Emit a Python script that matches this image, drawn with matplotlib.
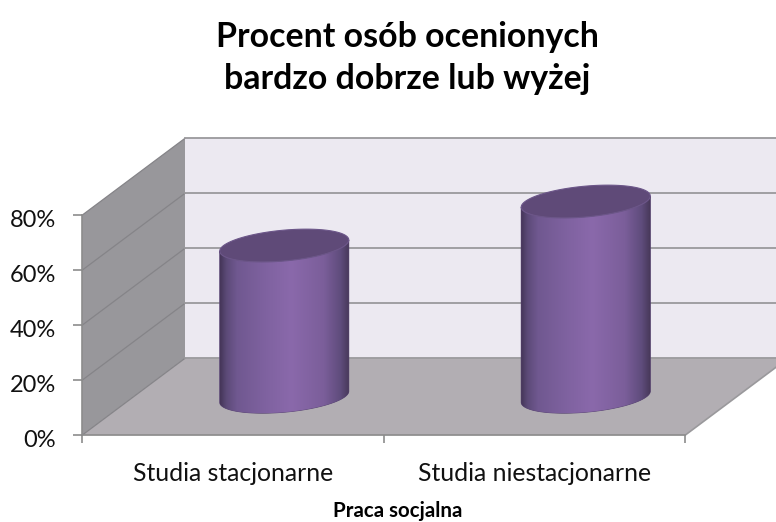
import numpy as np
import matplotlib
matplotlib.use("Agg")
import matplotlib.pyplot as plt
from matplotlib.colors import LinearSegmentedColormap
from matplotlib.transforms import ScaledTranslation

# %% Data
categories = ["Studia stacjonarne", "Studia niestacjonarne"]
values = [55, 71]
y_ticks = [0, 20, 40, 60, 80]
y_labels = ["0%", "20%", "40%", "60%", "80%"]
title = "Procent osób ocenionych\nbardzo dobrze lub wyżej"
x_title = "Praca socjalna"

# %% Style
plt.rcParams["font.family"] = ["Lato", "DejaVu Sans"]
W, H = 776, 522
# floor depth, in axis units
DEPTH_X = 103 / 301.5
DEPTH_Y = 28.0
BAR_W = 0.2013
BAR_D = 0.213
GRID = "#9a999c"

body_cmap = LinearSegmentedColormap.from_list(
    "cyl",
    [(0, "#453659"), (0.05, "#5c4a78"), (0.13, "#705890"), (0.35, "#7f62a0"),
     (0.55, "#8a69ab"), (0.8, "#7b5e9a"), (0.93, "#5f4c7c"), (1, "#463757")],
)


def proj(x, y, d):
    # oblique projection: depth d=0 front, d=1 back wall
    return x + d * DEPTH_X, y + d * DEPTH_Y


# %% Figure and axes, the axes is the front plane of the 3d box
fig = plt.figure(figsize=(W / 100, H / 100), dpi=100)
ax = fig.add_axes([82 / W, 1 - 435.3 / H, 603 / W, 220 / H])
ax.patch.set_visible(False)

# back wall, left wall, floor
bx, by = proj(np.array([0, 2, 2, 0]), np.array([0, 0, 80, 80]), 1)
ax.fill(bx, by, color="#ece9f1", lw=0, clip_on=False, zorder=1)
lx, ly = proj(np.array([0, 0, 0, 0]), np.array([0, 80, 80, 0]), np.array([0, 0, 1, 1]))
ax.fill(lx, ly, color="#98979b", lw=0, clip_on=False, zorder=1)
fx, fy = proj(np.array([0, 2, 2, 0]), np.array([0, 0, 0, 0]), np.array([0, 0, 1, 1]))
ax.fill(fx, fy, color="#b2aeb3", lw=0, clip_on=False, zorder=1)

# gridlines on both walls
for v in y_ticks:
    x0, y0 = proj(0, v, 0)
    x1, y1 = proj(0, v, 1)
    x2, y2 = proj(2, v, 1)
    ax.plot([x0, x1], [y0, y1], color="#858488", lw=0.9, clip_on=False, zorder=2)
    ax.plot([x1, x2], [y1, y2], color=GRID, lw=1.3, clip_on=False, zorder=2)
# right edge of the floor
x0, y0 = proj(2, 0, 0)
x1, y1 = proj(2, 0, 1)
ax.plot([x0, x1], [y0, y1], color=GRID, lw=1.2, clip_on=False, zorder=2)

# %% Cylinders
t0 = np.arctan2(BAR_D * DEPTH_X, BAR_W)
for i, v in enumerate(values):
    xc = i + 0.5

    def ring(t, val):
        d = 0.5 + BAR_D * np.sin(t)
        return proj(xc + BAR_W * np.cos(t), val, d)

    t_front = np.linspace(t0 + np.pi, t0 + 2 * np.pi, 80)
    t_full = np.linspace(0, 2 * np.pi, 160)
    bot_x, bot_y = ring(t_front, 0)
    top_x, top_y = ring(t_front[::-1], v)
    path_x = np.concatenate([bot_x, top_x])
    path_y = np.concatenate([bot_y, top_y])

    outline = ax.fill(path_x, path_y, color="#5a4674", lw=0.6, clip_on=False, zorder=3)[0]
    im = ax.imshow(
        np.linspace(0, 1, 256)[None, :],
        cmap=body_cmap,
        aspect="auto",
        interpolation="bilinear",
        extent=[path_x.min(), path_x.max(), path_y.min(), path_y.max()],
        zorder=4,
    )
    im.set_clip_path(outline)
    im.set_clip_box(fig.bbox)

    ell_x, ell_y = ring(t_full, v)
    ax.fill(ell_x, ell_y, facecolor="#5f4a78", edgecolor="#6c5689", lw=0.8,
            clip_on=False, zorder=5)

# %% Axes
ax.set_xlim(0, 2)
ax.set_ylim(0, 80)
for s in ["top", "right"]:
    ax.spines[s].set_visible(False)
for s in ["left", "bottom"]:
    ax.spines[s].set_color("#8c8c8c")
    ax.spines[s].set_linewidth(1.2)
    ax.spines[s].set_zorder(2.5)

ax.set_yticks(y_ticks)
ax.set_yticklabels(y_labels)
ax.set_xticks([0, 1, 2])
ax.set_xticklabels([])
ax.set_xticks([0.5, 1.5], minor=True)
ax.set_xticklabels(categories, minor=True)
ax.tick_params(axis="y", length=6.5, width=1.2, color="#8c8c8c", labelsize=17, pad=12, labelcolor="#111111")
ax.tick_params(axis="x", which="major", length=6, width=1.2, color="#8c8c8c")
ax.tick_params(axis="x", which="minor", length=0, labelsize=17.8, pad=19, labelcolor="#111111")

# y labels sit a little below their ticks
shift = ScaledTranslation(0, -3.5 / 100, fig.dpi_scale_trans)
for lab in ax.get_yticklabels():
    lab.set_transform(lab.get_transform() + shift)

fig.text(398 / W, 1 - 511 / H, x_title, fontsize=14.8, fontweight="bold", ha="center", va="center")
fig.text(407 / W, 1 - 58 / H, title, fontsize=24.4, fontweight="bold", ha="center", va="center", linespacing=1.42)

fig.savefig("out.png", dpi=100)
